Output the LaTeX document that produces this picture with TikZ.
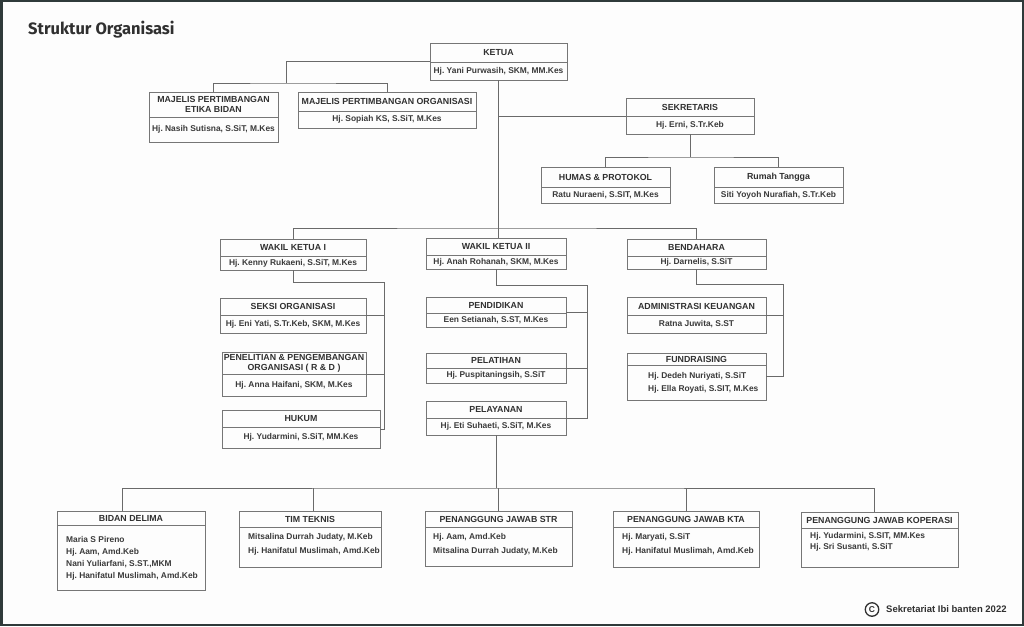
\documentclass[tikz,border=0pt]{standalone}
\usepackage{fontspec}
\setmainfont{Liberation Sans}
\newfontfamily\headfont{Fira Sans}
\usetikzlibrary{calc}
\frenchspacing
\definecolor{framecol}{HTML}{2F3A3A}
\definecolor{linecol}{HTML}{6A6A6A}
\definecolor{boxcol}{HTML}{767676}
\definecolor{txtcol}{HTML}{303030}
\definecolor{bodycol}{HTML}{3A3A3A}
\definecolor{bgcol}{HTML}{FDFDFD}
\tikzset{
  boxframe/.style={draw=boxcol, line width=0.9pt, inner sep=0pt, outer sep=0pt, rectangle},
  divline/.style={draw=boxcol, line width=0.8pt},
  conn/.style={draw=linecol, line width=0.8pt},
  ttl/.style={inner sep=0pt, align=center, text=txtcol, font=\bfseries\fontsize{8.8}{10}\selectfont},
  bdy/.style={inner sep=0pt, align=center, text=bodycol, font=\bfseries\fontsize{8.4}{13}\selectfont},
  bdyl/.style={bdy, align=left, anchor=west},
}
\newcommand{\oboxhead}[7]{%
  \node[boxframe, minimum width={(#4-#2)*1pt}, minimum height={(#5-#3)*1pt}] (#1) at ({(#2+#4)/2},{(#3+#5)/2}) {};
  \draw[divline] (#2,#6) -- (#4,#6);
  \node[ttl] (#1-t) at ({(#2+#4)/2},{(#3+#6)/2}) {#7};
}
\newcommand{\obox}[8]{%
  \oboxhead{#1}{#2}{#3}{#4}{#5}{#6}{#7}%
  \node[bdy] (#1-b) at ({(#2+#4)/2},{(#6+#5)/2}) {#8};
}
\begin{document}
\begin{tikzpicture}[x=1pt,y=-1pt]
\useasboundingbox (0,0) rectangle (1024,626);
\fill[bgcol] (0,0) rectangle (1024,626);
\draw[framecol, line width=2.5pt] (1.25,1.25) rectangle (1022.75,624.75);

\node[anchor=west, inner sep=0pt, text=txtcol, font=\headfont\bfseries\fontsize{16.5}{18}\selectfont] (title) at (28,30) {Struktur Organisasi};

% top level
\obox{ketua}{430}{43}{567}{80}{62}{KETUA}{Hj. Yani Purwasih, SKM, MM.Kes}
\obox{mpeb}{149}{92}{278}{142}{117}{MAJELIS PERTIMBANGAN\\ETIKA BIDAN}{Hj. Nasih Sutisna, S.SiT, M.Kes}
\obox{mpo}{298}{92}{476}{128}{111}{MAJELIS PERTIMBANGAN ORGANISASI}{Hj. Sopiah KS, S.SiT, M.Kes}
\obox{sek}{626}{98}{754}{134}{116}{SEKRETARIS}{Hj. Erni, S.Tr.Keb}
\obox{humas}{541}{167}{670}{203}{187}{HUMAS \& PROTOKOL}{Ratu Nuraeni, S.SIT, M.Kes}
\obox{rt}{714}{167}{843}{203}{187}{Rumah Tangga}{Siti Yoyoh Nurafiah, S.Tr.Keb}

% wakil ketua I column
\obox{wk1}{220}{239}{366}{270}{256}{WAKIL KETUA I}{Hj. Kenny Rukaeni, S.SiT, M.Kes}
\obox{seksi}{220}{298}{366}{333}{315}{SEKSI ORGANISASI}{Hj. Eni Yati, S.Tr.Keb, SKM, M.Kes}
\obox{litbang}{222}{352}{366}{396}{374}{PENELITIAN \& PENGEMBANGAN\\ORGANISASI ( R \& D )}{Hj. Anna Haifani, SKM, M.Kes}
\obox{hukum}{222}{410}{380}{448}{427}{HUKUM}{Hj. Yudarmini, S.SiT, MM.Kes}

% wakil ketua II column
\obox{wk2}{426}{238}{566}{269}{255}{WAKIL KETUA II}{Hj. Anah Rohanah, SKM, M.Kes}
\obox{pend}{426}{297}{566}{327}{313}{PENDIDIKAN}{Een Setianah, S.ST, M.Kes}
\obox{pelat}{426}{353}{566}{383}{368}{PELATIHAN}{Hj. Puspitaningsih, S.SiT}
\obox{pelay}{426}{401}{566}{435}{418}{PELAYANAN}{Hj. Eti Suhaeti, S.SiT, M.Kes}

% bendahara column
\obox{bend}{627}{239}{766}{269}{256}{BENDAHARA}{Hj. Darnelis, S.SiT}
\obox{admin}{627}{297}{766}{333}{315}{ADMINISTRASI KEUANGAN}{Ratna Juwita, S.ST}
\oboxhead{fund}{627}{353}{766}{400}{365}{FUNDRAISING}
\node[bdyl] (fund-b) at (648,382.5) {Hj. Dedeh Nuriyati, S.SiT\\Hj. Ella Royati, S.SIT, M.Kes};

% bottom row
\oboxhead{bidan}{57}{511}{205}{590}{525}{BIDAN DELIMA}
\node[bdyl, font=\bfseries\fontsize{8.4}{12}\selectfont] (bidan-b) at (66,558.5) {Maria S Pireno\\Hj. Aam, Amd.Keb\\Nani Yuliarfani, S.ST.,MKM\\Hj. Hanifatul Muslimah, Amd.Keb};
\oboxhead{tim}{239}{511}{381}{567}{527}{TIM TEKNIS}
\node[bdyl, font=\bfseries\fontsize{8.4}{14}\selectfont] (tim-b) at (248,544) {Mitsalina Durrah Judaty, M.Keb\\Hj. Hanifatul Muslimah, Amd.Keb};
\oboxhead{pjstr}{425}{511}{572}{566}{527}{PENANGGUNG JAWAB STR}
\node[bdyl, font=\bfseries\fontsize{8.4}{14}\selectfont] (pjstr-b) at (433,544) {Hj. Aam, Amd.Keb\\Mitsalina Durrah Judaty, M.Keb};
\oboxhead{pjkta}{613}{511}{759}{567}{527}{PENANGGUNG JAWAB KTA}
\node[bdyl, font=\bfseries\fontsize{8.4}{14}\selectfont] (pjkta-b) at (622,544) {Hj. Maryati, S.SiT\\Hj. Hanifatul Muslimah, Amd.Keb};
\oboxhead{kop}{801}{512}{958}{567}{528}{PENANGGUNG JAWAB KOPERASI}
\node[bdyl, font=\bfseries\fontsize{8.4}{11.5}\selectfont] (kop-b) at (810,542) {Hj. Yudarmini, S.SIT, MM.Kes\\Hj. Sri Susanti, S.SiT};

% connectors
\coordinate (mjbar) at (286,83);
\draw[conn] (ketua.west) -| (mjbar);
\draw[conn] (mpeb.north) |- (mjbar) -| (mpo.north);
\draw[conn] (ketua.south) -- (ketua.south |- wk2.north);
\coordinate (wbar) at (498.5,228);
\draw[conn] (wk1.north) |- (wbar) -| (bend.north);
\draw[conn] (sek.west) -- (sek.west -| ketua.south);
\coordinate (sbar) at (690,157);
\draw[conn] (sek.south) -- (sbar);
\draw[conn] (humas.north) |- (sbar) -| (rt.north);

\coordinate (w1r) at (384,282);
\draw[conn] (wk1.south) |- (w1r) |- (hukum.east);
\draw[conn] (seksi.east) -- (seksi.east -| w1r);
\draw[conn] (litbang.east) -- (litbang.east -| w1r);

\coordinate (w2r) at (587,285);
\draw[conn] (wk2.south) |- (w2r) |- (pelay.east);
\draw[conn] (pend.east) -- (pend.east -| w2r);
\draw[conn] (pelat.east) -- (pelat.east -| w2r);

\coordinate (br) at (783,284);
\draw[conn] (bend.south) |- (br) |- (fund.east);
\draw[conn] (admin.east) -- (admin.east -| br);

\coordinate (bbar) at (498,488);
\draw[conn] (pelay.south) -- (pelay.south |- bbar);
\draw[conn] ([xshift=-9pt]bidan.north) |- (bbar) -| ([xshift=-5.5pt]kop.north);
\draw[conn] ([xshift=3pt]tim.north) -- ([xshift=3pt]tim.north |- bbar);
\draw[conn] (pjstr.north) -- (pjstr.north |- bbar);
\draw[conn] (pjkta.north) -- (pjkta.north |- bbar);

% copyright
\node[circle, draw=txtcol, line width=1.3pt, minimum size=13.5pt, inner sep=0pt, text=txtcol, font=\bfseries\fontsize{8.5}{8.5}\selectfont] (copyc) at (872,609.5) {C};
\node[anchor=west, inner sep=0pt, text=txtcol, font=\bfseries\fontsize{9.5}{11}\selectfont] (copyt) at (886,609.5) {Sekretariat Ibi banten 2022};
\end{tikzpicture}
\end{document}
